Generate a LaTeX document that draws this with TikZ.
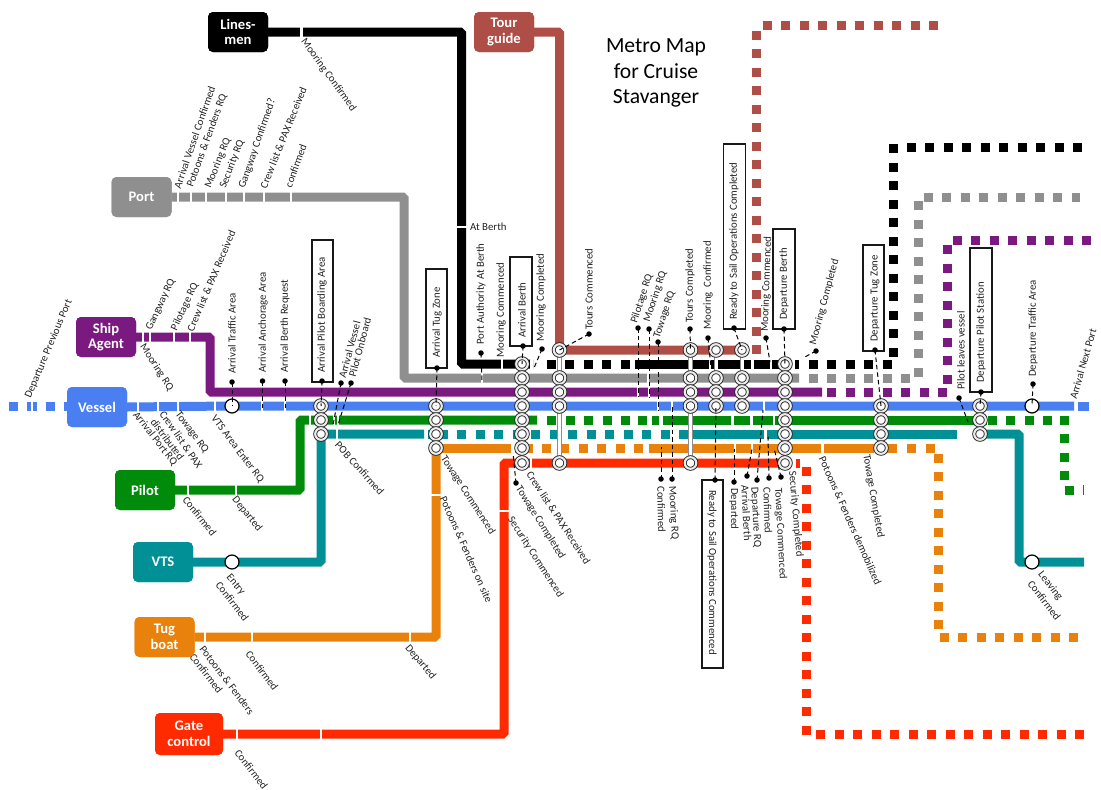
\documentclass[tikz,border=0pt]{standalone}
\usepackage{fontspec}
\setmainfont{Carlito}
\definecolor{cBlue}{HTML}{4A7FF2}
\definecolor{cPurple}{HTML}{7A1A80}
\definecolor{cGreen}{HTML}{008C0A}
\definecolor{cTeal}{HTML}{009095}
\definecolor{cOrange}{HTML}{E9820C}
\definecolor{cRed}{HTML}{FF2A00}
\definecolor{cGray}{HTML}{8F8F8F}
\definecolor{cBrown}{HTML}{AE4E46}
\definecolor{cBlack}{HTML}{000000}
\definecolor{cText}{HTML}{222222}
\tikzset{
  ln/.style={line width=9pt,line cap=butt,rounded corners=1.5pt},
  sq/.style={line width=9pt,line cap=butt,dash pattern=on 9pt off 9.5pt},
  wgap/.style={draw=white,line width=2.2pt,line cap=butt},
  term/.style={rounded corners=5pt,minimum width=60pt,minimum height=40pt,inner sep=0pt,
    align=center,text=white,font=\fontsize{14.6}{15.6}\selectfont\bfseries},
  stn/.style={circle,draw=black!85,double=black!8,double distance=2.1pt,line width=.9pt,fill=white,
    minimum size=11.6pt,inner sep=0pt,outer sep=0pt},
  ringstn/.style={circle,draw=black,line width=1.2pt,fill=white,minimum size=14pt,inner sep=0pt},
  link/.style={draw=black!45,double=white,double distance=3pt,line width=.8pt},
  ldr/.style={draw=black,line width=1pt,dash pattern=on 4.5pt off 3pt},
  bdot/.style={circle,fill=black,minimum size=5.5pt,inner sep=0pt},
  lab/.style={anchor=west,inner sep=0pt,text=cText,font=\fontsize{10.8}{11}\selectfont},
  tagbox/.style={draw=black!90,line width=1.1pt,fill=white,inner sep=0pt},
}
\newcommand\gv[2]{\draw[wgap] (#1,#2-6)--(#1,#2+6);}
\newcommand\gh[2]{\draw[wgap] (#1-6,#2)--(#1+6,#2);}
\newcommand\lbl[5]{\node[lab,rotate=#4] (#1) at (#2,#3) {#5};}
\newcommand\stnat[3]{\node[stn] (#1) at (#2,#3) {};}
\newcommand\dotat[3]{\node[bdot] (#1) at (#2,#3) {};}
\begin{document}
\begin{tikzpicture}[x=1pt,y=-1pt]
\useasboundingbox (0,0) rectangle (1101,790);
% terminals (named first, painted last)
\path
 (238,32)  node[term,fill=cBlack] (linesmen) {Lines-\\men}
 (504,32)  node[term,fill=cBrown] (tour) {Tour\\guide}
 (141.5,197) node[term,fill=cGray] (port) {Port}
 (106,337) node[term,fill=cPurple] (ship) {Ship\\Agent}
 (97,407)  node[term,fill=cBlue] (vessel) {Vessel}
 (145,490) node[term,fill=cGreen] (pilot) {Pilot}
 (163,562) node[term,fill=cTeal] (vts) {VTS}
 (164.5,637) node[term,fill=cOrange] (tug) {Tug\\boat}
 (189,734) node[term,fill=cRed,minimum width=68pt,minimum height=42pt] (gate) {Gate\\control};
% station coordinates
\foreach \n/\y in {b/406,c/420,d/434} {\coordinate (p\n) at (321,\y);}
\foreach \n/\y in {b/406,c/420,d/434,e/448} {\coordinate (t\n) at (436,\y);}
\foreach \n/\y in {a/364,g/378,p/392,b/406,c/420,d/434,e/448,r/463} {\coordinate (ab\n) at (522,\y);}
\foreach \n/\y in {a/350,g/378,p/392,b/406,r/463} {\coordinate (tc\n) at (559.5,\y);}
\foreach \n/\y in {a/350,g/378,p/392,b/406,r/463} {\coordinate (tf\n) at (690.5,\y);}
\foreach \n/\y in {a/350,g/378,p/392,b/406} {\coordinate (mc\n) at (716,\y);}
\foreach \n/\y in {a/350,g/378,p/392,b/406} {\coordinate (rs\n) at (742,\y);}
\foreach \n/\y in {a/364,g/378,p/392,b/406,c/420,d/434,e/448,r/463} {\coordinate (db\n) at (785,\y);}
\foreach \n/\y in {b/406,c/420,d/434,e/448} {\coordinate (dt\n) at (881,\y);}
\foreach \n/\y in {b/406,c/420,d/434} {\coordinate (dp\n) at (980,\y);}
\coordinate (ringA) at (232,406);
\coordinate (ringB) at (1032,406);
\coordinate (ringC) at (232,562);
\coordinate (ringD) at (1032,562);
% ---- BROWN
\draw[ln,cBrown] (tour.east) -- (559.5,32) -- (tca) -- (748,350);
\draw[sq,cBrown] (756.5,354) -- (756.5,29);
\draw[sq,cBrown] (762.5,25) -- (938,25);
% ---- BLACK
\draw[ln,cBlack] (linesmen.east) -- (461.5,32) -- (461.5,364) -- (aba) -- (533,364);
\gv{301.5}{32}\gh{461.5}{227}\gv{502}{364}\gv{527}{364}\gv{531.5}{364}
\draw[sq,cBlack] (546.5,364) -- (630,364);
\draw[ln,cBlack] (635,364) -- (dba);
\gv{710}{364}\gv{752.5}{364}\gv{771}{364}
\draw[ln,cBlack] (795,364) -- (799,364);
\draw[sq,cBlack] (808.5,364) -- (892,364);
\draw[sq,cBlack] (893,356.5) -- (893,143);
\draw[sq,cBlack] (906.5,147.5) -- (1082,147.5);
% ---- GRAY
\draw[ln,cGray] (port.east) -- (404,197) -- (404,378) -- (799,378);
\foreach \x in {178,191,206,226,244,264,291} {\gv{\x}{197}}
\gv{482}{378}\gv{648}{378}
\draw[sq,cGray] (808.5,378) -- (910,378);
\draw[sq,cGray] (918,376.5) -- (918,201);
\draw[sq,cGray] (923.5,197) -- (1080,197);
% ---- PURPLE
\draw[ln,cPurple] (ship.east) -- (210,337) -- (210,392) -- (822,392);
\foreach \x in {143,150,174,190} {\gv{\x}{337}}
\gv{638}{392}\gv{649}{392}
\draw[sq,cPurple] (827,392) -- (947,392);
\draw[sq,cPurple] (947,383.5) -- (947,244);
\draw[sq,cPurple] (952.5,240) -- (1092,240);
% ---- BLUE
\draw[ln,cBlue] (9,406) -- (18,406);
\draw[ln,cBlue] (27,406) -- (31,406);
\draw[ln,cBlue] (33,406) -- (37,406);
\draw[ln,cBlue] (46,406) -- (55,406);
\draw[ln,cBlue] (64,406) -- (67,406);
\draw[ln,cBlue] (vessel.east) -- (ringA) -- (ringB) -- (1074,406);
\draw[ln,cBlue] (1078,406) -- (1089,406);
\foreach \x in {138,158,178,215,262,285,658,672,764} {\gv{\x}{406}}
% ---- GREEN
\draw[ln,cGreen] (pilot.east) -- (300,490) -- (300,420) -- (pc) -- (537,420);
\gv{188}{490}\gv{236}{490}\gv{310}{420}\gv{334}{420}\gv{338}{420}
\draw[sq,cGreen] (547,420) -- (630,420);
\draw[ln,cGreen] (638,420) -- (647,420);
\draw[ln,cGreen] (652,420) -- (659,420);
\draw[ln,cGreen] (663,420) -- (dbc) -- (dtc) -- (dpc) -- (987,420);
\gv{732.5}{420}\gv{751.5}{420}\gv{774}{420}
\draw[sq,cGreen] (987.5,420) -- (1060,420);
\draw[sq,cGreen] (1064,415.5) -- (1064,481);
\draw[ln,cGreen] (1064.5,490) -- (1073.5,490);
\draw[cGreen,line width=.9pt] (1083,485) -- (1083,495);
% ---- TEAL
\draw[ln,cTeal] (vts.east) -- (321,562) -- (pd) -- (424,434);
\draw[ln,cTeal] (428,434) -- (438,434);
\gv{337}{434}
\draw[sq,cTeal] (438.5,434) -- (670,434);
\draw[ln,cTeal] (679,434) -- (dbd) -- (dtd) -- (957,434);
\gv{691.5}{434}\gv{765.5}{434}
\draw[ln,cTeal] (dpd) -- (1019,434) -- (1019,562) -- (1084,562);
% ---- ORANGE
\draw[ln,cOrange] (tug.east) -- (436,637) -- (te);
\draw[ln,cOrange] (te) -- (511,448);
\draw[ln,cOrange] (515,448) -- (533,448);
\gv{205}{637}\gv{252}{637}\gv{410}{637}\gh{436}{495}
\draw[sq,cOrange] (541.5,448) -- (643,448);
\draw[ln,cOrange] (649,448) -- (dbe) -- (dte) -- (897,448);
\gv{735}{448}\gv{752}{448}\gv{788}{448}\gv{822.5}{448}\gv{875}{448}
\draw[sq,cOrange] (907,448) -- (935,448);
\draw[sq,cOrange] (938,453.5) -- (938,630);
\draw[sq,cOrange] (939.5,637) -- (1080,637);
% ---- RED
\draw[ln,cRed] (gate.east) -- (504,734) -- (504,463) -- (abr) -- (dbr);
\gv{237}{734}\gv{321}{734}\gh{504}{511}\gv{531}{463}
\draw[ln,cRed] (796,463) -- (800,463);
\draw[sq,cRed] (806.5,466.5) -- (806.5,737);
\draw[sq,cRed] (816,734) -- (1084,734);
% ---- station links
\draw[link] (pb)--(pd); \draw[link] (tb)--(te); \draw[link] (aba)--(abr);
\draw[link] (tca)--(tcr); \draw[link] (tfa)--(tfr); \draw[link] (mca)--(mcb);
\draw[link] (rsa)--(rsb); \draw[link] (dba)--(dbr); \draw[link] (dtb)--(dte); \draw[link] (dpb)--(dpd);
% ---- stations
\foreach \c in {pb,pc,pd,tb,tc,td,te,aba,abg,abp,abb,abc,abd,abe,abr,tca,tcg,tcp,tcb,tcr,
  tfa,tfg,tfp,tfb,tfr,mca,mcg,mcp,mcb,rsa,rsg,rsp,rsb,dba,dbg,dbp,dbb,dbc,dbd,dbe,dbr,dtb,dtc,dtd,dte,dpb,dpc,dpd}
  {\node[stn] (S\c) at (\c) {};}
\node[ringstn] (Ra) at (ringA) {};
\node[ringstn] (Rb) at (ringB) {};
\node[ringstn] (Rc) at (ringC) {};
\node[ringstn] (Rd) at (ringD) {};
% ---- boxes round stop names
\node[tagbox,minimum width=21pt,minimum height=142pt] (bxA) at (322.5,311) {};
\node[tagbox,minimum width=21pt,minimum height=99pt]  (bxB) at (436.5,318.5) {};
\node[tagbox,minimum width=22pt,minimum height=89pt]  (bxC) at (521,301.5) {};
\node[tagbox,minimum width=22pt,minimum height=185pt] (bxD) at (734.5,236.5) {};
\node[tagbox,minimum width=22pt,minimum height=100pt] (bxE) at (784,279) {};
\node[tagbox,minimum width=21pt,minimum height=106pt] (bxF) at (873.5,298) {};
\node[tagbox,minimum width=22pt,minimum height=144pt] (bxG) at (981,320) {};
\node[tagbox,minimum width=21pt,minimum height=188pt] (bxH) at (712.5,574) {};
% ---- leaders with dots
\dotat{dA}{232}{382}\dotat{dB}{262.5}{381}\dotat{dC}{285}{381}\dotat{dD}{322}{381}
\dotat{dE}{341}{383}\dotat{dF}{351}{383}\dotat{dG}{437}{368}\dotat{dH}{481}{353}
\dotat{dI}{523}{346}\dotat{dJ}{542}{349}\dotat{dK}{589}{334}\dotat{dL}{638}{328}
\dotat{dM}{649}{329}\dotat{dN}{658}{342}\dotat{dO}{690}{329}\dotat{dP}{708}{338}
\dotat{dQ}{734}{328}\dotat{dR}{766}{338}\dotat{dS}{784}{329}\dotat{dT}{816}{351}
\dotat{dU}{875}{350}\dotat{dV}{959}{398}\dotat{dW}{981}{392}\dotat{dX}{1033}{384}
\dotat{dY}{516}{483}\dotat{dZ}{661}{479}\dotat{da}{672}{479}\dotat{db}{715}{480}
\dotat{dc}{734}{482}\dotat{dd}{747}{476}\dotat{de}{757}{480}\dotat{df}{769}{478}\dotat{dg}{781}{477}
\coordinate (eB) at (262.5,410);\coordinate (eC) at (285,410);
\coordinate (eE) at (333,425);\coordinate (eF) at (338,425);
\coordinate (eH) at (482,383);\coordinate (eJ) at (534,368);
\coordinate (eL) at (638,397);\coordinate (eM) at (649,397);\coordinate (eN) at (658,411);
\coordinate (eP) at (711,368);\coordinate (eR) at (770,362);\coordinate (eT) at (803,358);
\coordinate (eV) at (968,422);\coordinate (eY) at (513,453);
\coordinate (eZ) at (661,447);\coordinate (ea) at (672,407);\coordinate (ec) at (734,449);
\coordinate (ed) at (752,449);\coordinate (ee) at (763,410);\coordinate (ef) at (768,437);\coordinate (eg) at (774,448);
\foreach \a/\b in {dA/Ra,dD/Spb,dG/Stb,dI/Saba,dK/Stca,dO/Stfa,dQ/Srsa,dS/Sdba,dU/Sdtb,dW/Sdpb,dX/Rb,db/Smcb,
  dB/eB,dC/eC,dE/eE,dF/eF,dH/eH,dJ/eJ,dL/eL,dM/eM,dN/eN,dP/eP,dR/eR,dT/eT,dV/eV,dY/eY,dZ/eZ,da/ea,dc/ec,dd/ed,de/ee,df/ef,dg/eg}
  {\draw[ldr] (\a.center) -- (\b.center);}
% ---- labels, port line
\lbl{l1}{177}{188}{71}{Arrival Vessel Confirmed}
\lbl{l2}{190}{187}{70}{Potoons \& Fenders RQ}
\lbl{l3}{208}{188}{68}{Mooring RQ}
\lbl{l4}{223}{188}{69}{Security RQ}
\lbl{l5}{242}{188}{71}{Gangway Confirmed?}
\lbl{l6}{263}{188}{68}{Crew list \& PAX Received}
\lbl{l7}{288}{187}{70}{confirmed}
\lbl{l8}{303}{40}{-54}{Mooring Confirmed}
% ship agent
\lbl{l9}{149}{330}{65}{Gangway RQ}
\lbl{l10}{174}{330}{65}{Pilotage RQ}
\lbl{l11}{190}{331}{67}{Crew list \& PAX Received}
\lbl{l12}{142}{345}{-57}{Mooring RQ}
\lbl{l13}{28}{398}{67}{Departure Previous Port}
% vessel below
\lbl{l14}{177}{413}{-53}{Towage RQ}
\lbl{l15}{162}{412}{-55}{Crew list \& PAX}
\lbl{l16}{153}{420}{-53}{distributed}
\lbl{l17}{135}{413}{-52}{Arrival Port RQ}
\lbl{l18}{213}{417}{-53}{VTS Area Enter RQ}
% pilot, vts, tug, gate
\lbl{l19}{185}{498}{-51}{Confirmed}
\lbl{l20}{234}{498}{-51}{Departed}
\lbl{l21}{228}{576}{-50}{Entry}
\lbl{l22}{218}{583}{-52}{Confirmed}
\lbl{l23}{202}{647}{-53}{Potoons \& Fenders}
\lbl{l24}{192}{655}{-52}{Confirmed}
\lbl{l25}{248}{652}{-53}{Confirmed}
\lbl{l26}{407}{646}{-50}{Departed}
\lbl{l27}{237}{751}{-52}{Confirmed}
\lbl{l28}{337}{443}{-48}{POB Confirmed}
\lbl{l29}{443}{457}{-57}{Towage Commenced}
\lbl{l30}{443}{497}{-66}{Potoons \& Fenders on site}
\lbl{l31}{529}{472}{-57}{Crew list \& PAX Received}
\lbl{l32}{518}{487}{-58}{Towage Completed}
\lbl{l33}{510}{518}{-57}{Security Commenced}
% under the trunk
\lbl{l34}{661}{486}{-89}{Confirmed}
\lbl{l35}{672}{486}{-87}{Mooring RQ}
\lbl{l36}{712}{490}{-90}{Ready to Sail Operations Commenced}
\lbl{l37}{734}{488}{-90}{Departed}
\lbl{l38}{745}{485}{-87}{Arrival Berth}
\lbl{l39}{754}{487}{-87}{Departure RQ}
\lbl{l40}{767}{487}{-88}{Confirmed}
\lbl{l41}{778}{488}{-87}{Towage Commenced}
\lbl{l42}{792}{471}{-85}{Security Completed}
\lbl{l43}{822}{457}{-66}{Potoons \& Fenders demobilized}
\lbl{l44}{866}{455}{-80}{Towage Completed}
% above the trunk
\lbl{l45}{232}{374}{90}{Arrival Traffic Area}
\lbl{l46}{263}{373}{90}{Arrival Anchorage Area}
\lbl{l47}{285}{373}{90}{Arrival Berth Request}
\lbl{l48}{322}{373}{90}{Arrival Pilot Boarding Area}
\lbl{l49}{342}{378}{75}{Arrival Vessel}
\lbl{l50}{352}{377}{75}{Pilot Onboard}
\lbl{l51}{437}{358}{90}{Arrival Tug Zone}
\lbl{l52}{481}{345}{90}{Port Authority At Berth}
\lbl{l53}{501}{358}{90}{Mooring Commenced}
\lbl{l54}{522}{338}{90}{Arrival Berth}
\lbl{l55}{541}{342}{90}{Mooring Completed}
\lbl{l56}{589}{330}{90}{Tours Commenced}
\lbl{l57}{634}{323}{72}{Pilotage RQ}
\lbl{l58}{647}{322}{72}{Mooring RQ}
\lbl{l59}{657}{338}{72}{Towage RQ}
\lbl{l60}{690}{323}{90}{Tours Completed}
\lbl{l61}{708}{330}{90}{Mooring\ \ Confirmed}
\lbl{l62}{734}{320}{90}{Ready to Sail Operations Completed}
\lbl{l63}{765}{332}{88}{Mooring Commenced}
\lbl{l64}{784}{320}{90}{Departure Berth}
\lbl{l65}{813}{345}{75}{Mooring Completed}
\lbl{l66}{875}{342}{90}{Departure Tug Zone}
\lbl{l67}{961}{390}{90}{Pilot leaves vessel}
\lbl{l68}{981}{383}{90}{Departure Pilot Station}
\lbl{l69}{1033}{377}{90}{Departure Traffic Area}
\lbl{l70}{1073}{399}{74}{Arrival Next Port}
\lbl{l71}{470}{227}{0}{At Berth}
\lbl{l72}{1040}{573}{-52}{Leaving}
\lbl{l73}{1030}{582}{-52}{Confirmed}
% title
\node[align=center,text=black,font=\fontsize{21.6}{25.5}\selectfont] (title) at (656,73) {Metro Map\\for Cruise\\Stavanger};
% terminals on top
\path
 (238,32)  node[term,fill=cBlack] {Lines-\\men}
 (504,32)  node[term,fill=cBrown] {Tour\\guide}
 (141.5,197) node[term,fill=cGray] {Port}
 (106,337) node[term,fill=cPurple] {Ship\\Agent}
 (97,407)  node[term,fill=cBlue] {Vessel}
 (145,490) node[term,fill=cGreen] {Pilot}
 (163,562) node[term,fill=cTeal] {VTS}
 (164.5,637) node[term,fill=cOrange] {Tug\\boat}
 (189,734) node[term,fill=cRed,minimum width=68pt,minimum height=42pt] {Gate\\control};
\end{tikzpicture}
\end{document}
